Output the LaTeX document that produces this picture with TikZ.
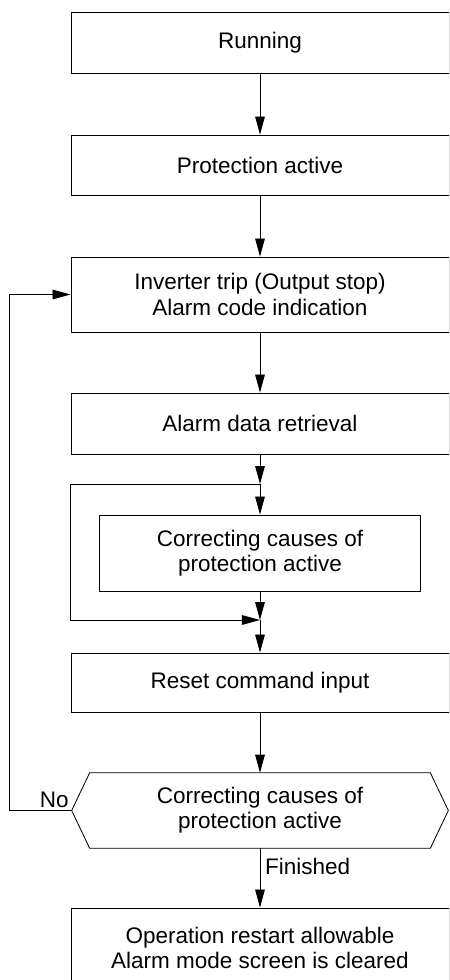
\documentclass[tikz,border=0pt]{standalone}
\usepackage{fontspec}
\setmainfont{Liberation Sans}
\usetikzlibrary{arrows.meta}

\tikzset{
  boite/.style={draw, line width=0.6pt, minimum width=9.45cm, align=center, inner sep=0pt},
  fleche/.style={-{Triangle[length=4.5mm,width=2.4mm]}, line width=0.6pt}
}

\begin{document}
\begin{tikzpicture}[x=0.025cm, y=-0.025cm, font=\fontsize{16}{18}\selectfont]

\useasboundingbox (0,0) rectangle (449,980);
\clip (0,0) rectangle (449,980);

% Etapes
\node[boite, minimum height=1.525cm] (run) at (260,42.5) {Running};
\node[boite, minimum height=1.5cm] (prot) at (260,165) {Protection active};
\node[boite, minimum height=1.875cm] (trip) at (260,294.5)
{Inverter trip (Output stop)\\Alarm code indication};
\node[boite, minimum height=1.525cm] (data) at (260,423.5) {Alarm data retrieval};
\node[boite, minimum width=8.025cm, minimum height=1.9cm] (fix) at (260,553)
{Correcting causes of\\protection active};
\node[boite, minimum height=1.475cm] (reset) at (260,682.5) {Reset command input};
\node[boite, minimum height=2cm] (final) at (260,948)
{Operation restart allowable\\Alarm mode screen is cleared};

% Decision
\node[minimum width=9.4cm, minimum height=1.875cm, align=center, inner sep=0pt] (hex)
at (260,810.5) {Correcting causes of\\protection active};
\draw[line width=0.6pt]
(hex.west)
--
([xshift=0.45cm]hex.north west)
--
([xshift=-0.45cm]hex.north east)
--
(hex.east)
--
([xshift=-0.45cm]hex.south east)
--
([xshift=0.45cm]hex.south west)
--
cycle;

% Liaisons
\coordinate (split) at (260,484);
\coordinate (merge) at (260,620);

\draw[fleche] (run) -- (prot);
\draw[fleche] (prot) -- (trip);
\draw[fleche] (trip) -- (data);
\draw[fleche] (data) -- (split);
\draw[fleche] (split) -- (fix);
\draw[fleche] (split) -- ++(-190,0) |- (merge);
\draw[fleche] (fix) -- (merge);
\draw[fleche] (merge) -- (reset);
\draw[fleche] (reset) -- (hex.north);
\draw[fleche] (hex.south) -- node[pos=0.3, right] (fini) {Finished} (final);

% Retour
\draw[fleche] (hex.west) -- ++(-62,0) |- (trip.west);
\node[anchor=south east, inner sep=2pt] (non) at (hex.west) {No};

\end{tikzpicture}
\end{document}
